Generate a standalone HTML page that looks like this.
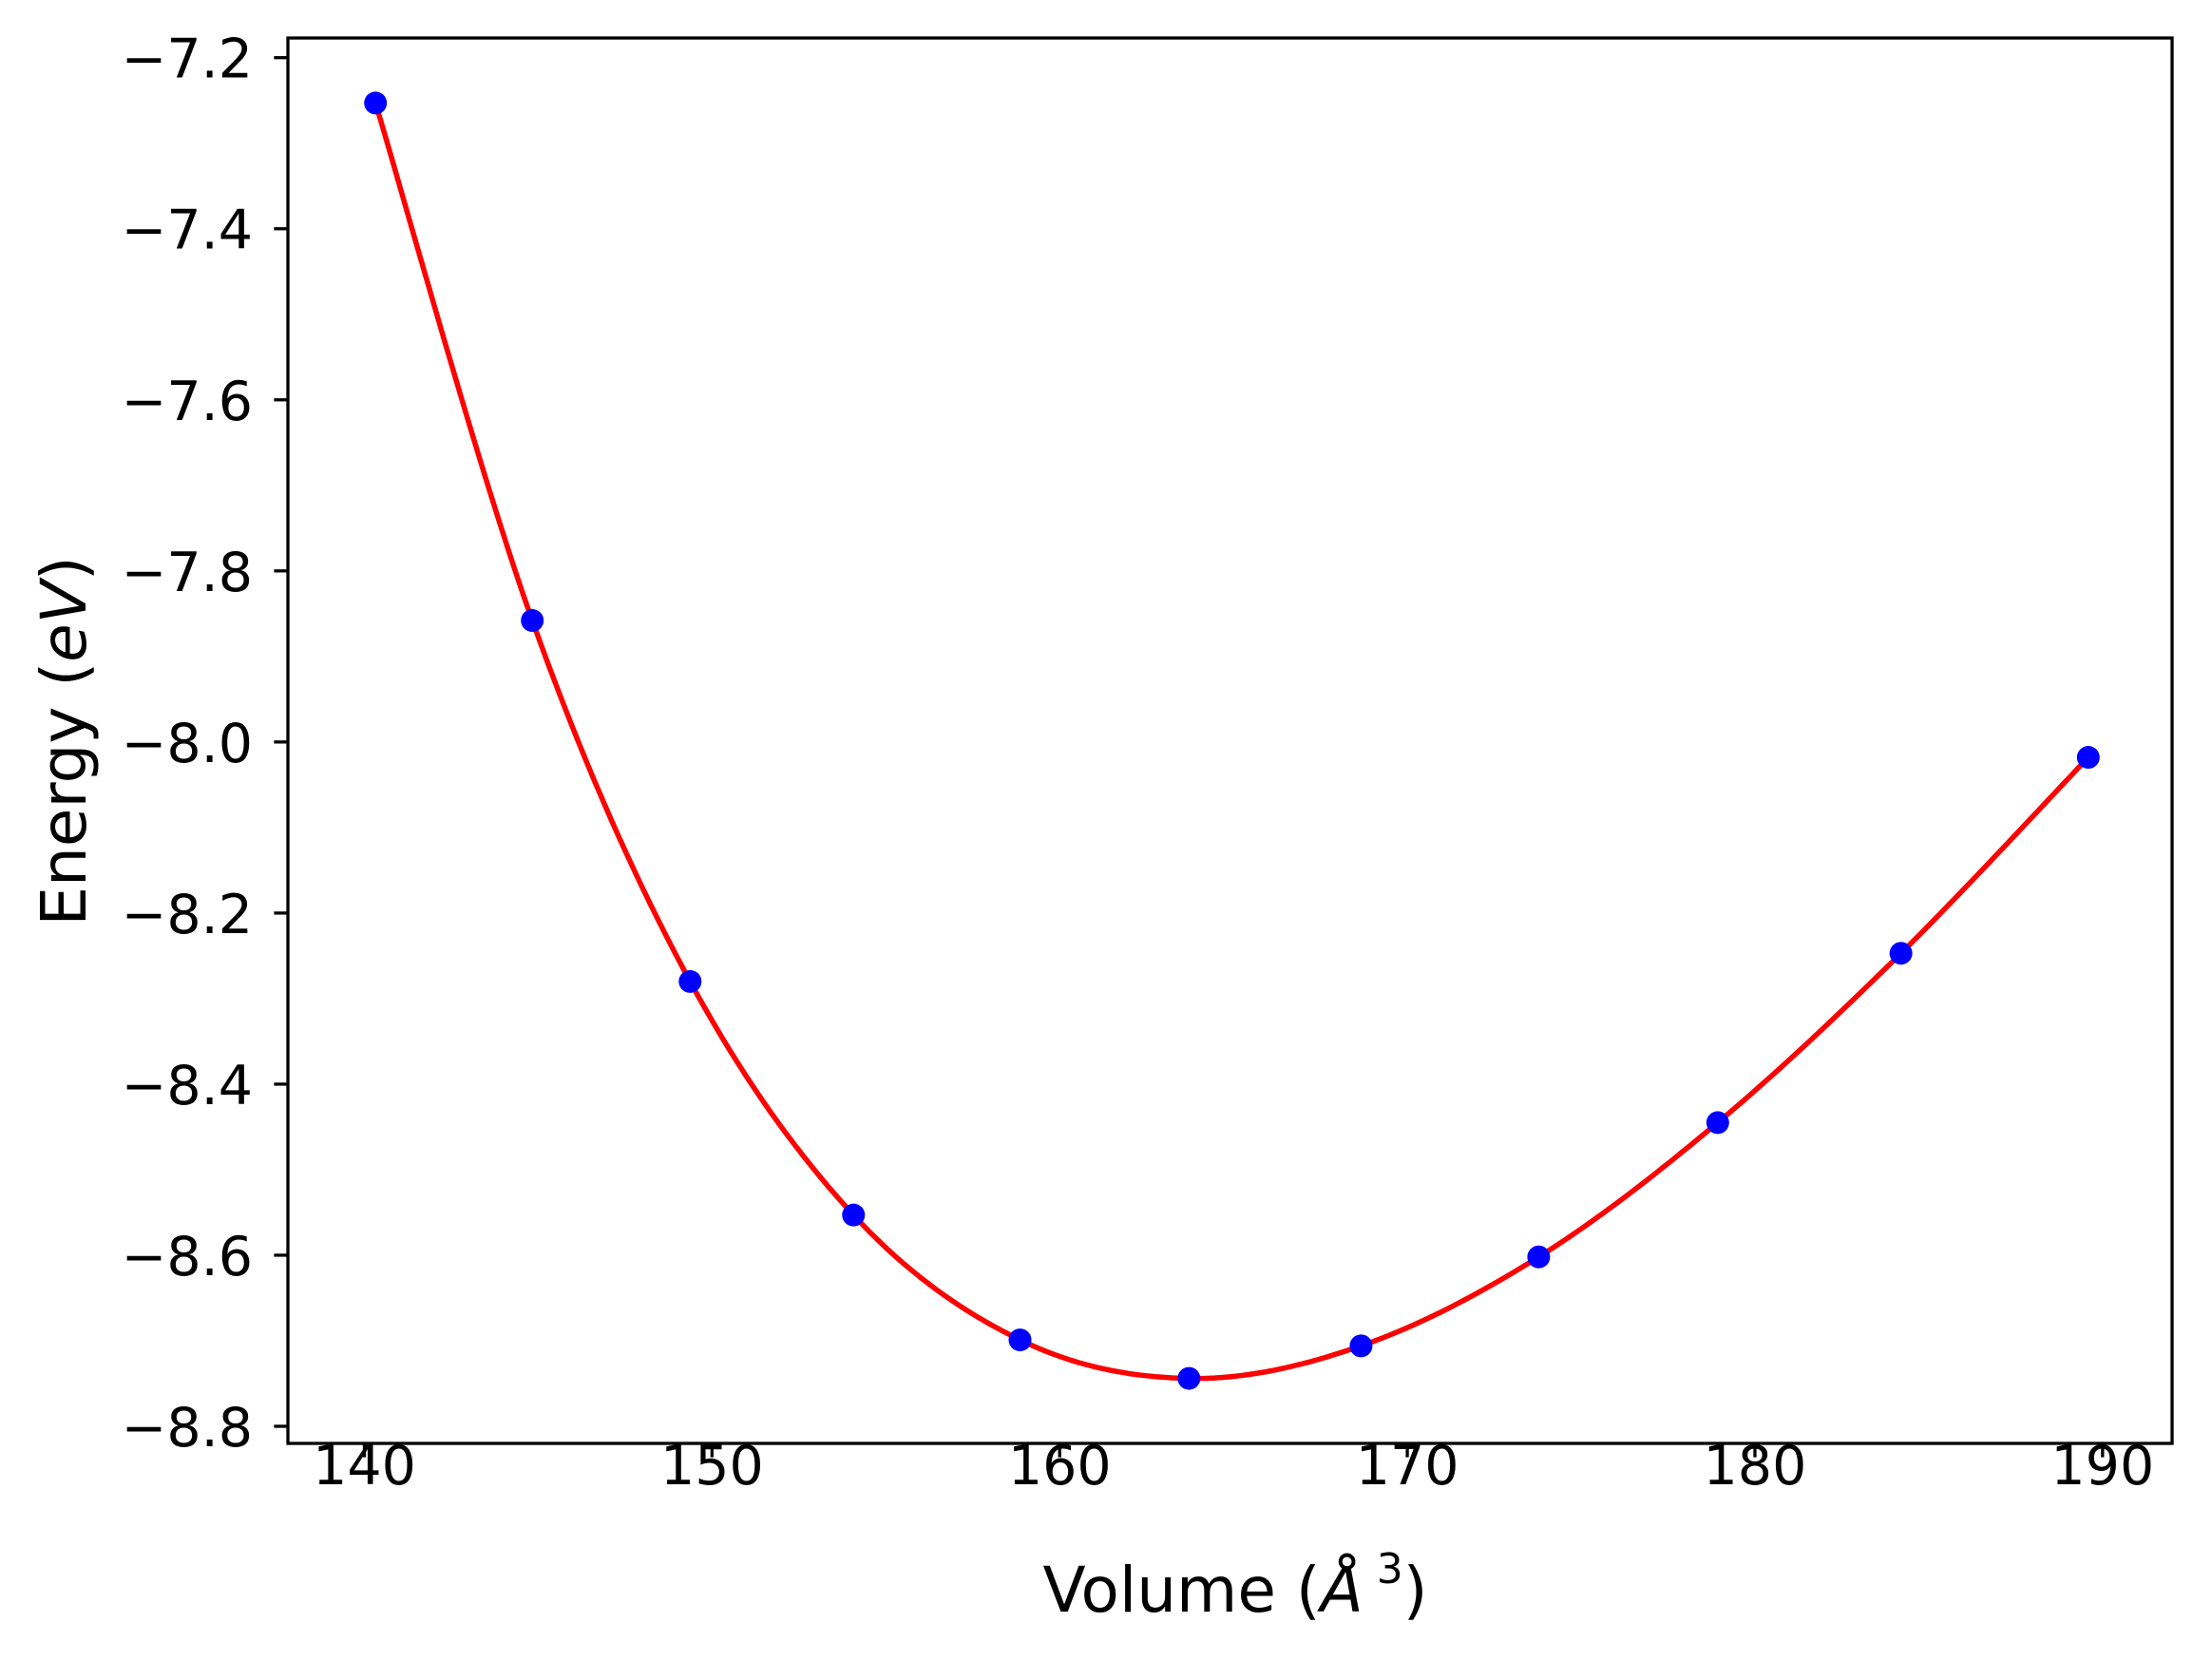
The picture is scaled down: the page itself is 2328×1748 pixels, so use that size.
<!DOCTYPE html>
<html><head><meta charset="utf-8"><style>html,body{margin:0;padding:0;background:#fff}svg{display:block}</style></head>
<body>
<svg id="chart" xmlns="http://www.w3.org/2000/svg" width="2328" height="1748" viewBox="0 0 2328 1748" font-family="DejaVu Sans, Liberation Sans, sans-serif">
<rect width="2328" height="1748" fill="#fff"/>
<g id="plot"></g>
<g id="axes"></g>
<text x="1300" y="1696" font-size="66" text-anchor="middle">Volume (<tspan font-style="italic">Å</tspan><tspan font-size="44" dy="-30"> 3</tspan><tspan dy="30">)</tspan></text>
<text transform="translate(90,780) rotate(-90)" font-size="66" text-anchor="middle">Energy (<tspan font-style="italic">eV</tspan>)</text>
</svg>
<script>
const volumes = [140.32, 144.83, 149.37, 154.07, 158.86, 163.72, 168.67, 173.78, 178.93, 184.20, 189.59];
const energies = [-7.253, -7.858, -8.280, -8.553, -8.699, -8.744, -8.706, -8.602, -8.445, -8.247, -8.018];
const xTicks = [140, 150, 160, 170, 180, 190];
const yTicks = [-7.2, -7.4, -7.6, -7.8, -8.0, -8.2, -8.4, -8.6, -8.8];

const L = 303, R = 2286, T = 40, B = 1519;
const xMin = 137.8, xMax = 192.0, yMin = -8.82, yMax = -7.177;
const sx = v => L + (v - xMin) / (xMax - xMin) * (R - L);
const sy = v => T + (yMax - v) / (yMax - yMin) * (B - T);
const NS = 'http://www.w3.org/2000/svg';
const plot = document.getElementById('plot');
const axes = document.getElementById('axes');
function mk(tag, attrs, parent) {
  const e = document.createElementNS(NS, tag);
  for (const k in attrs) e.setAttribute(k, attrs[k]);
  parent.appendChild(e);
  return e;
}
let d = '';
const n = volumes.length;
for (let i = 0; i < n - 1; i++) {
  const x0 = volumes[Math.max(i - 1, 0)], y0 = energies[Math.max(i - 1, 0)];
  const x1 = volumes[i], y1 = energies[i];
  const x2 = volumes[i + 1], y2 = energies[i + 1];
  const x3 = volumes[Math.min(i + 2, n - 1)], y3 = energies[Math.min(i + 2, n - 1)];
  for (let s = 0; s <= 20; s++) {
    const t = s / 20, t2 = t * t, t3 = t2 * t;
    const cx = 0.5 * ((2 * x1) + (-x0 + x2) * t + (2 * x0 - 5 * x1 + 4 * x2 - x3) * t2 + (-x0 + 3 * x1 - 3 * x2 + x3) * t3);
    const cy = 0.5 * ((2 * y1) + (-y0 + y2) * t + (2 * y0 - 5 * y1 + 4 * y2 - y3) * t2 + (-y0 + 3 * y1 - 3 * y2 + y3) * t3);
    d += (d ? 'L' : 'M') + sx(cx).toFixed(1) + ' ' + sy(cy).toFixed(1);
  }
}
const line = mk('path', {d: d, fill: 'none', stroke: '#ff0000', 'stroke-width': 5.5, 'stroke-linejoin': 'round'}, plot);


volumes.forEach((v, i) => {
  const c = mk('circle', {cx: sx(v), cy: sy(energies[i]), r: 12, fill: '#0000ff'}, plot);
  
  
});
const frame = mk('rect', {x: L, y: T, width: R - L, height: B - T, fill: 'none', stroke: '#000', 'stroke-width': 3.3}, axes);


xTicks.forEach(v => {
  const x = sx(v);
  const tk = mk('line', {x1: x, x2: x, y1: B, y2: B + 14.6, stroke: '#000', 'stroke-width': 3.3}, axes);
  
  
  const tx = mk('text', {x: x, y: 1562, 'font-size': 57, 'text-anchor': 'middle'}, axes);
  tx.textContent = String(v);
  
  
});
yTicks.forEach(v => {
  const y = sy(v);
  const tk = mk('line', {x1: L - 14.6, x2: L, y1: y, y2: y, stroke: '#000', 'stroke-width': 3.3}, axes);
  
  
  const tx = mk('text', {x: L - 37, y: y + 21, 'font-size': 57, 'text-anchor': 'end'}, axes);
  tx.textContent = '\u2212' + Math.abs(v).toFixed(1);
  
  
});
</script>
</body></html>
